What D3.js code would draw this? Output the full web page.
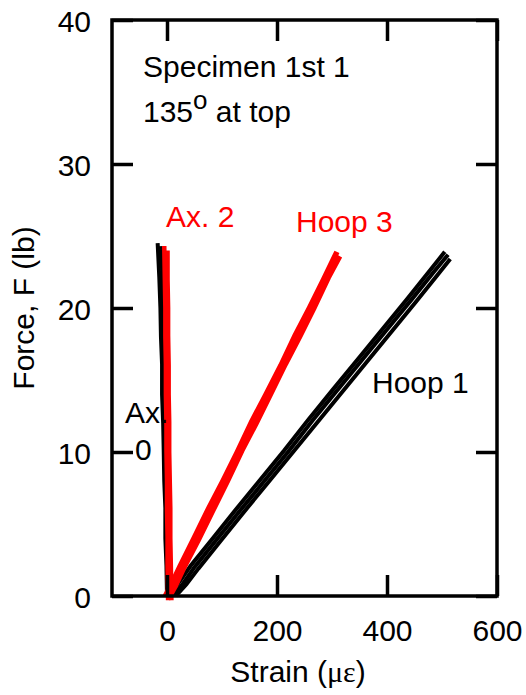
<!DOCTYPE html>
<html>
<head>
<meta charset="utf-8">
<script src="https://cdn.jsdelivr.net/npm/d3@7"></script>
<style>
  body { margin: 0; background: #fff; }
  text { font-family: "Liberation Sans", Arial, sans-serif; }
</style>
</head>
<body>
<div id="app"></div>
<script>
// Data: [strain (µε), force (lb)]
const ax0Left  = [[0,0],[-1,2.1],[-3,4],[-3,6.1],[-5,8],[-6,10.1],[-7,12],[-9,14],[-9,16.1],[-11,18],[-12,20],[-14,22.1],[-17,24.5]]
const ax0Right = [[6,0],[5,2],[3,4.1],[2,6],[1,8.1],[-1,10],[-2,12.1],[-3,14],[-4,16],[-6,18.1],[-7,20],[-8,22],[-11,24.3]]

const ax2Left  = [[2,-0.3],[1,2],[1,4.1],[0,6],[0,8],[-1,10.1],[-1,12],[-2,14],[-2,16.1],[-3,18],[-3,20],[-4,22.1],[-5,24.3]]
const ax2Right = [[8,-0.3],[7,2.1],[6,4],[6,6.1],[5,8],[4,10],[4,12.1],[3,14],[3,16],[2,18.1],[2,20],[1,22],[1,24]]

const hoop1A = [[2,0],[21,0.9],[43,2.1],[83,4.0],[123,5.9],[168,8.0],[213,10.1],[258,12.3],[303,14.4],[348,16.5],[393,18.6],[438,20.7],[478,22.6],[505,23.9]]
const hoop1B = [[9,0],[28,0.8],[50,2.0],[90,3.9],[130,5.8],[175,7.9],[220,10.0],[265,12.2],[310,14.3],[355,16.4],[400,18.5],[445,20.6],[485,22.5],[511,23.7]]
const hoop1C = [[16,0],[35,0.8],[57,1.9],[97,3.8],[137,5.7],[182,7.8],[227,9.9],[272,12.0],[317,14.1],[362,16.2],[407,18.3],[452,20.4],[490,22.2],[515,23.4]]

const hoop3A = [[-3,0],[8,0.8],[23,2],[49,4],[76,6.1],[102,8],[128,10],[154,12.1],[180,14],[207,16],[233,18.1],[259,20],[285,22],[309,23.9]]
const hoop3B = [[5,0],[15,0.7],[31,2],[57,3.9],[84,6],[110,8],[136,10.1],[162,12],[188,14],[215,16.1],[241,18],[267,20],[293,22.1],[314,23.6]]

const xTicks = [0, 200, 400, 600]
const yTicks = [0, 10, 20, 30, 40]

//#region dimensions
let dimensions = {
  width: 526,
  height: 695,
  margin: { top: 20, right: 29, bottom: 99, left: 112 },
}
dimensions.boundedWidth = dimensions.width - dimensions.margin.left - dimensions.margin.right
dimensions.boundedHeight = dimensions.height - dimensions.margin.top - dimensions.margin.bottom
//#endregion

//#region canvas
const svg = d3.select('#app')
  .append('svg')
    .attr('width', dimensions.width)
    .attr('height', dimensions.height)

const bounds = svg.append('g')
    .attr('transform', `translate(${dimensions.margin.left},${dimensions.margin.top})`)
//#endregion

//#region scales
const xScale = d3.scaleLinear()
  .domain([-100, 600])
  .range([0, dimensions.boundedWidth])

const yScale = d3.scaleLinear()
  .domain([0, 40])
  .range([dimensions.boundedHeight, 0])
//#endregion

//#region annotations (under the curves)
const fontSize = 30
svg.append('text')
    .attr('x', 125).attr('y', 423)
    .style('font-size', fontSize + 'px')
    .text('Ax.')
svg.append('text')
    .attr('x', 135).attr('y', 460)
    .style('font-size', fontSize + 'px')
    .text('0')
//#endregion

//#region curves
const line = d3.line()
  .x(d => xScale(d[0]))
  .y(d => yScale(d[1]))

const curves = [
  { data: ax0Left, color: 'black', w: 4 },
  { data: ax0Right, color: 'black', w: 4 },
  { data: hoop1A, color: 'black', w: 4 },
  { data: hoop1B, color: 'black', w: 4 },
  { data: hoop1C, color: 'black', w: 4 },
  { data: ax2Left, color: 'red', w: 4.5 },
  { data: ax2Right, color: 'red', w: 4.5 },
  { data: hoop3A, color: 'red', w: 5.5 },
  { data: hoop3B, color: 'red', w: 5.5 },
]

bounds.append('g')
  .selectAll('path')
  .data(curves)
  .join('path')
    .attr('d', d => line(d.data))
    .attr('fill', 'none')
    .attr('stroke', d => d.color)
    .attr('stroke-width', d => d.w)
    .attr('stroke-linejoin', 'miter')
//#endregion

//#region axes
const styleAxis = g => {
  g.select('.domain').remove()
  g.selectAll('.tick line').attr('stroke', 'black').attr('stroke-width', 3.5)
  g.selectAll('.tick text')
    .attr('fill', 'black')
    .style('font-size', fontSize + 'px')
    .style('font-family', '"Liberation Sans", Arial, sans-serif')
}

bounds.append('g')
    .attr('transform', `translate(0,${dimensions.boundedHeight})`)
    .call(d3.axisBottom(xScale).tickValues(xTicks).tickSize(-21).tickPadding(24))
    .call(styleAxis)

bounds.append('g')
    .call(d3.axisTop(xScale).tickValues(xTicks).tickSize(-21).tickFormat(''))
    .call(styleAxis)

bounds.append('g')
    .call(d3.axisLeft(yScale).tickValues(yTicks).tickSize(-21).tickPadding(21))
    .call(styleAxis)
    .selectAll('.tick text').attr('dy', '0.38em')

bounds.append('g')
    .attr('transform', `translate(${dimensions.boundedWidth},0)`)
    .call(d3.axisRight(yScale).tickValues(yTicks).tickSize(-21).tickFormat(''))
    .call(styleAxis)

bounds.append('rect')
    .attr('width', dimensions.boundedWidth)
    .attr('height', dimensions.boundedHeight)
    .attr('fill', 'none')
    .attr('stroke', 'black')
    .attr('stroke-width', 3.5)

const xLabel = svg.append('text')
    .attr('x', 298)
    .attr('y', 682)
    .attr('text-anchor', 'middle')
    .style('font-size', fontSize + 'px')
xLabel.append('tspan').text('Strain (')
xLabel.append('tspan').style('font-family', '"Liberation Serif", serif').text('με')
xLabel.append('tspan').text(')')

svg.append('text')
    .attr('transform', 'translate(34,308) rotate(-90)')
    .attr('text-anchor', 'middle')
    .style('font-size', fontSize + 'px')
    .text('Force, F (lb)')
//#endregion

//#region labels
svg.append('text')
    .attr('x', 143).attr('y', 77)
    .style('font-size', fontSize + 'px')
    .text('Specimen 1st 1')

const angle = svg.append('text')
    .attr('x', 143).attr('y', 122)
    .style('font-size', fontSize + 'px')
angle.append('tspan').text('135')
angle.append('tspan').attr('dy', -13).style('font-size', '26px').text('o')
angle.append('tspan').attr('dy', 13).text(' at top')

svg.append('text')
    .attr('x', 166).attr('y', 227)
    .attr('fill', 'red')
    .style('font-size', fontSize + 'px')
    .text('Ax. 2')

svg.append('text')
    .attr('x', 296).attr('y', 232)
    .attr('fill', 'red')
    .style('font-size', fontSize + 'px')
    .text('Hoop 3')

svg.append('text')
    .attr('x', 372).attr('y', 393)
    .style('font-size', fontSize + 'px')
    .text('Hoop 1')
//#endregion
</script>
</body>
</html>
